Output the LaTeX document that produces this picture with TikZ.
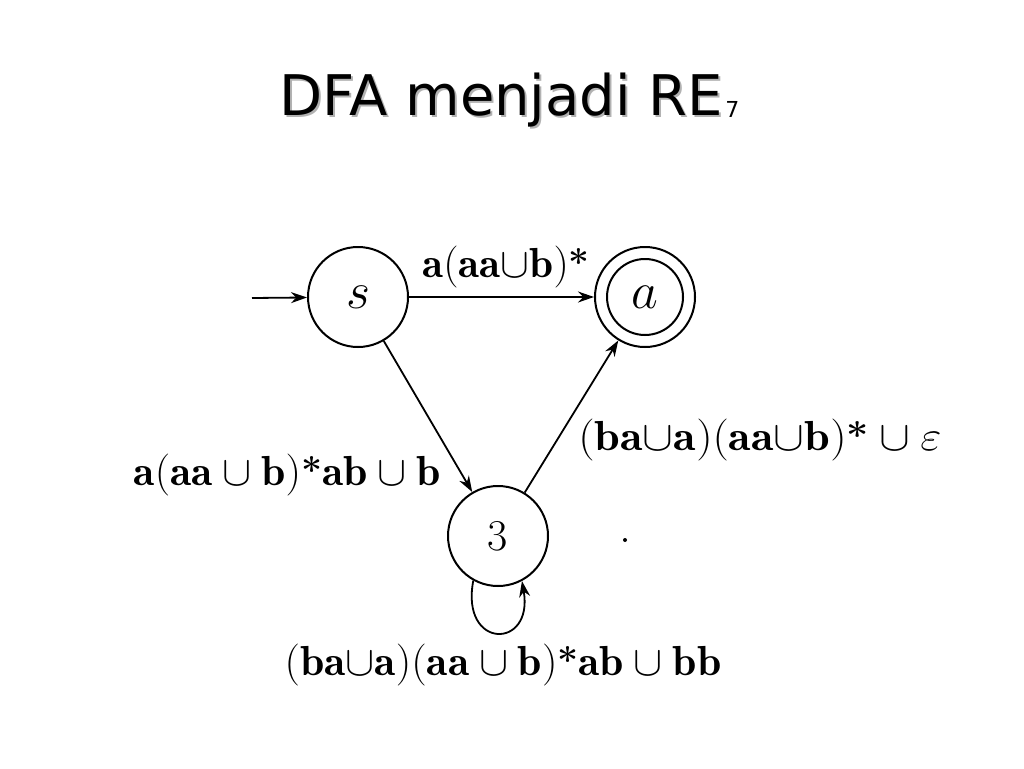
\documentclass[tikz,border=0pt]{standalone}
\usepackage{fix-cm}
\usepackage{fontspec}
\newfontfamily\titlefont{DejaVu Sans}
\usetikzlibrary{arrows.meta}
\newcommand{\bstar}{\raisebox{2pt}{\fontsize{36}{36}\selectfont\bfseries *}}
\begin{document}
\begin{tikzpicture}[x=1pt,y=-1pt,
  state/.style={draw, circle, line width=2pt, minimum size=100pt, inner sep=0pt, font=\fontsize{52}{56}\selectfont},
  edge/.style={line width=1.8pt, -{Stealth[length=16pt,width=11pt]}},
  elabel/.style={font=\fontsize{42}{46}\selectfont, anchor=base, inner sep=0pt},
  titletext/.style={anchor=base west, inner sep=0pt, font=\titlefont\fontsize{56}{60}\selectfont}]
\useasboundingbox (0,0) rectangle (1024,768);
% title with shadow
\node[titletext, text=black!30] (tshadow) at (281,117) {DFA menjadi RE};
\node[titletext] (title) at (279,115) {DFA menjadi RE};
\node[anchor=base west, inner sep=0pt, font=\titlefont\fontsize{22}{24}\selectfont] (tsub) at ([xshift=2pt,yshift=-2pt]title.base east) {7};
% states
\node[state] (s) at (358,297) {$s$};
\node[state] (ao) at (645,297) {};
\node[draw, circle, line width=2pt, minimum size=76pt, inner sep=0pt, font=\fontsize{52}{56}\selectfont] (ai) at (645,297) {$a$};
\node[state, font=\fontsize{44}{50}\selectfont] (n3) at (498,536) {3};
\coordinate (init) at (252,298);
% edges
\draw[edge] (init) -- (s);
\draw[edge] (s) -- (ao);
\draw[edge] (s) -- (n3);
\draw[edge] (n3) -- (ao);
\draw[edge] (n3.-119) .. controls (460,650) and (534,650) .. (n3.-62);
% labels
\node[elabel, xscale=1.03] (l1) at (506,277) {$\mathbf{a}(\mathbf{aa}{\cup}\mathbf{b})$\bstar};
\node[elabel, xscale=1.04] (l2) at (287,485) {$\mathbf{a}(\mathbf{aa}\cup\mathbf{b})$\bstar$\mathbf{ab}\cup\mathbf{b}$};
\node[elabel, xscale=1.1] (l3) at (760,450) {$(\mathbf{ba}{\cup}\mathbf{a})(\mathbf{aa}{\cup}\mathbf{b})$\bstar${}\cup\varepsilon$};
\node[elabel, xscale=1.04] (l4) at (503,675) {$(\mathbf{ba}{\cup}\mathbf{a})(\mathbf{aa}\cup\mathbf{b})$\bstar$\mathbf{ab}\cup\mathbf{bb}$};
\fill (625,540) circle (2);
\end{tikzpicture}
\end{document}
